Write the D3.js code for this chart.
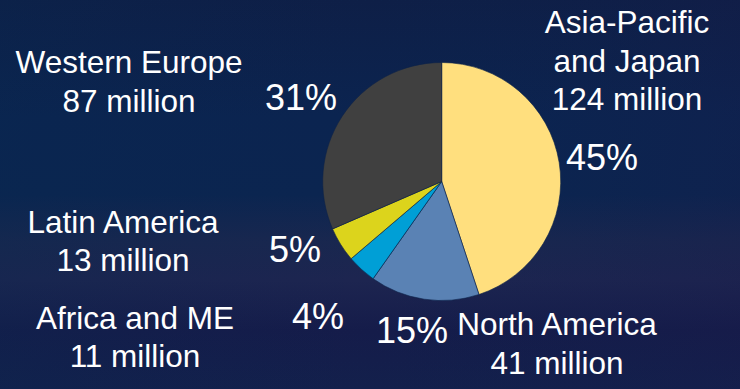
<!DOCTYPE html>
<html>
<head>
<meta charset="utf-8">
<script src="https://cdn.jsdelivr.net/npm/d3@7"></script>
<style>
  html, body { margin: 0; padding: 0; background: #0d2148; }
  svg { display: block; }
  text { font-family: "Liberation Sans", Arial, sans-serif; fill: #ffffff; }
</style>
</head>
<body>
<svg id="chart" width="740" height="389"></svg>
<script>
// Installed base by region (millions), clockwise from 12 o'clock
const regions = ["Asia-Pacific and Japan", "North America", "Africa and ME", "Latin America", "Western Europe"];
const millions = [124, 41, 11, 13, 87];
const percentLabels = ["45%", "15%", "4%", "5%", "31%"];
const nameLines = [
  ["Asia-Pacific", "and Japan", "124 million"],
  ["North America", "41 million"],
  ["Africa and ME", "11 million"],
  ["Latin America", "13 million"],
  ["Western Europe", "87 million"]
];
const sliceColors = ["#ffdf7e", "#5a82b4", "#009fd6", "#dcd41c", "#404040"];

const W = 740, H = 389;
const svg = d3.select("#chart");
const defs = svg.append("defs");

// Backdrop: navy vertical gradient with a lighter violet band low down
const bg = defs.append("linearGradient").attr("id", "bgV")
  .attr("x1", 0).attr("y1", 0).attr("x2", 0).attr("y2", 1);
[[0, "#0e1f47"], [0.3, "#0b2450"], [0.5, "#0b2550"], [0.62, "#19274f"],
 [0.72, "#1d2550"], [0.85, "#151c4a"], [1, "#13204c"]]
  .forEach(([o, c]) => bg.append("stop").attr("offset", o).attr("stop-color", c));
svg.append("rect").attr("width", W).attr("height", H).attr("fill", "url(#bgV)");

const bgH = defs.append("linearGradient").attr("id", "bgH")
  .attr("x1", 0).attr("y1", 0).attr("x2", 1).attr("y2", 0);
bgH.append("stop").attr("offset", 0).attr("stop-color", "#062a50").attr("stop-opacity", 0.25);
bgH.append("stop").attr("offset", 0.5).attr("stop-color", "#0a2450").attr("stop-opacity", 0);
bgH.append("stop").attr("offset", 1).attr("stop-color", "#1a1a4a").attr("stop-opacity", 0.25);
svg.append("rect").attr("width", W).attr("height", H).attr("fill", "url(#bgH)");

// Pie
const cx = 441.7, cy = 181.5, radius = 119;
const data = regions.map((r, i) => ({ region: r, value: millions[i], color: sliceColors[i] }));
const pie = d3.pie().value(d => d.value).sort(null);
const arc = d3.arc().innerRadius(0).outerRadius(radius);

svg.append("g").attr("transform", `translate(${cx},${cy})`)
  .selectAll("path").data(pie(data)).join("path")
  .attr("d", arc)
  .attr("fill", d => d.data.color)
  .attr("stroke", "#0c2248")
  .attr("stroke-width", 0.6);

// Labels
const nameSize = 31.5;
const pctSize = 36;
const lineGap = 38.5;
const namePos = [
  { x: 627, y: 33 },
  { x: 557, y: 335 },
  { x: 135, y: 328.5 },
  { x: 123, y: 232.5 },
  { x: 129, y: 73 }
];
const pctPos = [
  { x: 602, y: 170 },
  { x: 412, y: 343 },
  { x: 318, y: 328.5 },
  { x: 295, y: 261.5 },
  { x: 301, y: 110 }
];

const labels = svg.append("g");
nameLines.forEach((lines, i) => {
  const t = labels.append("text")
    .attr("text-anchor", "middle")
    .attr("font-size", nameSize)
    .attr("x", namePos[i].x).attr("y", namePos[i].y);
  lines.forEach((ln, j) => {
    t.append("tspan").attr("x", namePos[i].x).attr("dy", j === 0 ? 0 : lineGap).text(ln);
  });
});
percentLabels.forEach((p, i) => {
  labels.append("text")
    .attr("text-anchor", "middle")
    .attr("font-size", pctSize)
    .attr("x", pctPos[i].x).attr("y", pctPos[i].y)
    .text(p);
});
</script>
</body>
</html>
